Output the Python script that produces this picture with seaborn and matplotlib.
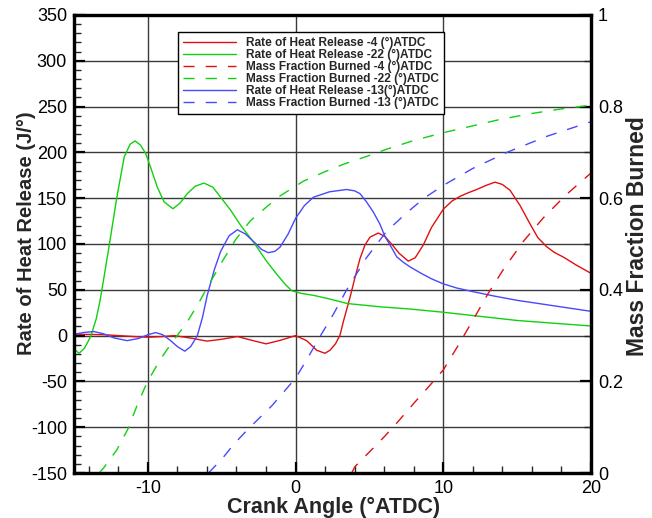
import matplotlib
matplotlib.use("Agg")
import matplotlib.pyplot as plt
from matplotlib.ticker import MultipleLocator, FuncFormatter
import pandas as pd
import seaborn as sns

sns.set_theme(style="white")
plt.rcParams["font.family"] = ["Liberation Sans", "DejaVu Sans"]
plt.rcParams["axes.unicode_minus"] = False

# Rate of heat release (J/deg) versus crank angle, three injection timings
ca_rhr_m4 = [-15, -13, -11, -10, -9, -8.2, -7, -6, -5, -3.94, -3, -2.0, -1, 0, 0.75, 1.43,
             1.99, 2.33, 2.7, 3.0, 3.23, 3.69, 4.0, 4.36, 4.7, 5.04, 5.6, 6.06, 6.6, 7.0,
             7.63, 8.1, 8.65, 9.2, 10, 10.6, 11.13, 11.7, 12.26, 12.9, 13.5, 14.0, 14.52,
             15.2, 15.87, 16.4, 17.0, 17.5, 18.13, 19, 20]
rhr_m4 = [1.5, 1, -1, -1.8, -1, 0, -3, -6, -4, -1, -5, -9, -5, 0, -5.5, -16,
          -19.3, -16, -9, 0, 15, 42, 62, 84, 99, 107.5, 112, 108, 98, 90,
          81.3, 85, 99, 118, 138, 147, 152, 156, 159.5, 164, 167.5, 165, 158.6,
          142, 122, 107, 97, 91, 85.7, 77, 68]

ca_rhr_m22 = [-15, -14.66, -14.3, -14.0, -13.85, -13.5, -13.24, -13.08, -12.6, -12.1, -11.6,
              -11.2, -10.87, -10.5, -10.15, -9.8, -9.36, -8.9, -8.3, -7.8, -7.33, -6.8,
              -6.2, -5.6, -5.07, -4.4, -3.7, -2.8, -2.0, -1.3, -0.7, -0.26, 0.4, 1.2,
              2.3, 3.5, 5.7, 7.75, 10, 12.5, 15, 17.5, 20]
rhr_m22 = [-14.6, -19.3, -14, -5, 0, 18, 38, 53, 100, 151, 195,
           209, 212.5, 208, 199, 183, 162, 146, 138.5, 145, 155, 163,
           166.5, 162, 151, 137, 120, 101, 82, 67.5, 56, 49, 46, 44,
           40, 35, 31.5, 29, 25.5, 21, 16.5, 13.5, 10.5]

ca_rhr_m13 = [-15, -14.3, -13.65, -13.0, -12.3, -11.4, -10.6, -10.0, -9.47, -9.0, -8.5, -8.0,
              -7.5, -7.1, -6.65, -6.3, -5.98, -5.5, -5.07, -4.5, -3.94, -3.4, -2.8, -2.3,
              -1.85, -1.4, -1.05, -0.5, 0.0, 0.6, 1.2, 2.3, 3.46, 4.0, 4.36, 4.8, 5.26,
              5.7, 6.06, 6.5, 6.85, 7.3, 7.75, 8.5, 9.2, 10, 10.9, 12, 13.5, 15, 17.5, 20]
rhr_m13 = [1.5, 3.5, 4.4, 2, -2.5, -5.5, -3, 1, 3.3, 1, -5, -12,
           -17, -12, 0, 20, 44, 72, 92, 109, 115.5, 111, 102, 94,
           90.5, 92, 96.6, 111, 128, 142, 151, 157, 159.5, 158, 155, 146, 135,
           122, 108, 96, 86, 80, 75, 68, 62, 56.5, 52, 48, 43, 38.5, 32.5, 26.5]

# Mass fraction burned versus crank angle
ca_mfb_m4 = [3.8, 4.02, 5.0, 6.0, 6.85, 8.0, 9.0, 10.0, 11.0, 12.03, 13.0, 14.06, 15.4,
             16.77, 18.3, 20]
mfb_m4 = [0, 0.014, 0.046, 0.079, 0.109, 0.152, 0.188, 0.225, 0.278, 0.335, 0.39, 0.444,
          0.505, 0.557, 0.607, 0.655]

ca_mfb_m22 = [-13.3, -13.02, -12.11, -11.32, -10.76, -10.08, -9.18, -8.39, -7.37, -6.58,
              -5.98, -5.0, -4.05, -3.08, -2.0, -1.05, 0.52, 2.0, 3.23, 4.7, 6.17, 8.0, 10,
              12, 13.84, 16, 18, 20]
mfb_m22 = [0, 0.01, 0.05, 0.098, 0.145, 0.196, 0.247, 0.284, 0.328, 0.37,
           0.405, 0.46, 0.51, 0.55, 0.58, 0.605, 0.637, 0.658, 0.674, 0.69, 0.707, 0.726,
           0.743, 0.758, 0.772, 0.785, 0.795, 0.803]

ca_mfb_m13 = [-5.9, -5.0, -4.2, -3.27, -1.6, 0.0, 0.75, 1.6, 2.6, 3.46, 4.8, 6.17, 7.52,
              8.7, 10.0, 12.0, 14.3, 17.0, 20]
mfb_m13 = [0, 0.03, 0.062, 0.094, 0.147, 0.207, 0.247, 0.295, 0.349, 0.4, 0.47, 0.528,
           0.568, 0.6, 0.628, 0.665, 0.70, 0.735, 0.767]

labels = [
    "Rate of Heat Release -4 (°)ATDC",
    "Rate of Heat Release -22 (°)ATDC",
    "Mass Fraction Burned -4 (°)ATDC",
    "Mass Fraction Burned -22 (°)ATDC",
    "Rate of Heat Release -13(°)ATDC",
    "Mass Fraction Burned -13 (°)ATDC",
]

RED, GREEN, BLUE = "#e01010", "#10d010", "#4848ff"
DASH = (0, (8, 8))

fig = plt.figure(figsize=(6.52, 5.18), dpi=100)
ax = fig.add_axes([74 / 652, 45 / 518, 517 / 652, 458 / 518])
ax2 = ax.twinx()

rhr_series = [
    (ca_rhr_m4, rhr_m4, RED, labels[0]),
    (ca_rhr_m22, rhr_m22, GREEN, labels[1]),
    (ca_rhr_m13, rhr_m13, BLUE, labels[4]),
]
mfb_series = [
    (ca_mfb_m4, mfb_m4, RED, labels[2]),
    (ca_mfb_m22, mfb_m22, GREEN, labels[3]),
    (ca_mfb_m13, mfb_m13, BLUE, labels[5]),
]

for xs, ys, col, lab in rhr_series:
    df = pd.DataFrame({"ca": xs, "val": ys})
    sns.lineplot(data=df, x="ca", y="val", ax=ax, color=col, lw=1.0,
                 estimator=None, sort=False, label=lab, legend=False)
for xs, ys, col, lab in mfb_series:
    df = pd.DataFrame({"ca": xs, "val": ys})
    sns.lineplot(data=df, x="ca", y="val", ax=ax2, color=col, lw=1.0,
                 linestyle=DASH, estimator=None, sort=False, label=lab, legend=False)

ax.set_xlim(-15, 20)
ax.set_ylim(-150, 350)
ax2.set_ylim(0, 1)

ax.xaxis.set_major_locator(MultipleLocator(10))
ax.xaxis.set_minor_locator(MultipleLocator(2))
ax.yaxis.set_major_locator(MultipleLocator(50))
ax.yaxis.set_minor_locator(MultipleLocator(10))
ax2.yaxis.set_major_locator(MultipleLocator(0.2))
ax2.yaxis.set_minor_locator(MultipleLocator(0.1))
ax2.yaxis.set_major_formatter(FuncFormatter(lambda v, p: f"{v:g}"))

ax.set_axisbelow(True)
ax.grid(True, which="major", color="#3a3a3a", lw=1.0)
ax2.grid(False)

for a in (ax, ax2):
    for s in a.spines.values():
        s.set_visible(True)
        s.set_color("black")
        s.set_linewidth(2.3)

ax.tick_params(which="major", direction="in", length=8, width=1.6, labelsize=13,
               pad=5, colors="black", top=False, right=False, left=True, bottom=True)
ax.tick_params(which="minor", direction="in", length=5, width=1.0,
               top=False, right=False, left=True, bottom=True)
ax2.tick_params(which="major", direction="in", length=8, width=1.6, labelsize=13,
                pad=5, colors="black", right=True, left=False)
ax2.tick_params(which="minor", direction="in", length=5, width=1.0,
                right=True, left=False)

ax.set_xlabel("Crank Angle (°ATDC)", fontsize=15.5, fontweight="bold")
ax.set_ylabel("Rate of Heat Release (J/°)", fontsize=14.5, fontweight="bold")
ax2.set_ylabel("Mass Fraction Burned", fontsize=16.5, fontweight="bold")
ax.xaxis.set_label_coords(0.503, -0.052)
ax.yaxis.set_label_coords(-0.074, 0.524)
ax2.yaxis.set_label_coords(1.068, 0.517)

handles = {}
for line in ax.get_lines() + ax2.get_lines():
    handles[line.get_label()] = line
leg = ax2.legend([handles[l] for l in labels], labels, loc="upper left",
                 bbox_to_anchor=(0.201, 0.963), borderaxespad=0, frameon=True,
                 fancybox=False, edgecolor="black", framealpha=1,
                 prop={"weight": "bold", "size": 8.6}, handlelength=4.45,
                 handletextpad=0.84, labelspacing=0.0, borderpad=0.4)
leg.get_frame().set_linewidth(1.0)

fig.savefig("out.png", dpi=100)
